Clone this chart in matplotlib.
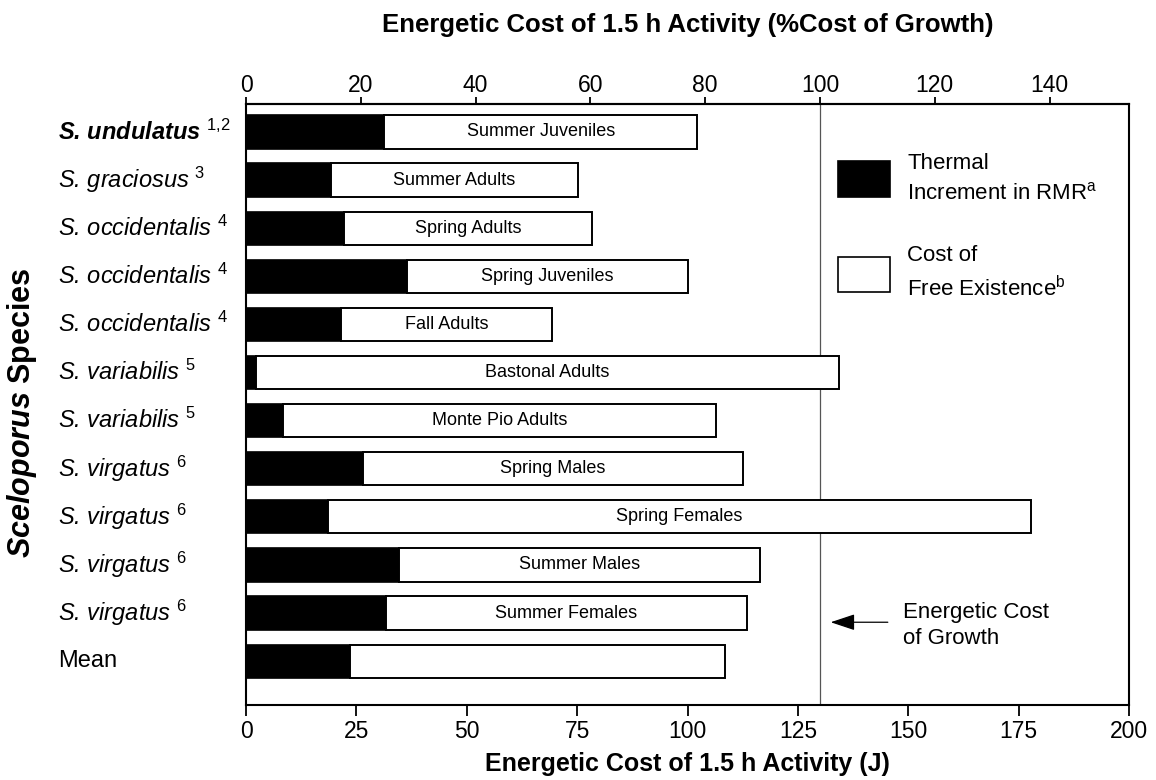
import matplotlib
matplotlib.use("Agg")
import matplotlib.pyplot as plt
from matplotlib.patches import Rectangle
from matplotlib.transforms import blended_transform_factory

plt.rcParams['font.family'] = ['Liberation Sans', 'DejaVu Sans']
plt.rcParams['mathtext.fontset'] = 'custom'
plt.rcParams['mathtext.rm'] = 'Liberation Sans'
plt.rcParams['mathtext.it'] = 'Liberation Sans:italic'
plt.rcParams['mathtext.bf'] = 'Liberation Sans:bold'
plt.rcParams['mathtext.bfit'] = 'Liberation Sans:bold:italic'

# --- data (J) ---
species = ['S. undulatus', 'S. graciosus', 'S. occidentalis', 'S. occidentalis',
           'S. occidentalis', 'S. variabilis', 'S. variabilis', 'S. virgatus',
           'S. virgatus', 'S. virgatus', 'S. virgatus', 'Mean']
refs = ['1{,}2', '3', '4', '4', '4', '5', '5', '6', '6', '6', '6', '']
groups = ['Summer Juveniles', 'Summer Adults', 'Spring Adults', 'Spring Juveniles',
          'Fall Adults', 'Bastonal Adults', 'Monte Pio Adults', 'Spring Males',
          'Spring Females', 'Summer Males', 'Summer Females', '']
thermal = [31.3, 19.3, 22.2, 36.5, 21.5, 2.3, 8.4, 26.5, 18.5, 34.6, 31.7, 23.6]
total = [102.2, 75.2, 78.4, 100.1, 69.3, 134.3, 106.5, 112.5, 177.8, 116.5, 113.5, 108.4]
growth_cost = 130.0  # J, = 100 % cost of growth
pct_ticks = [0, 20, 40, 60, 80, 100, 120, 140]
j_ticks = [0, 25, 50, 75, 100, 125, 150, 175, 200]

fig = plt.figure(figsize=(11.56, 7.8), dpi=100)
ax = fig.add_axes([246 / 1156, 1 - 705 / 780, 883 / 1156, 601 / 780])

ypos = list(range(len(species)))
free = [t - th for t, th in zip(total, thermal)]

ax.axvline(growth_cost, color='#555555', lw=0.9, zorder=1)
ax.barh(ypos, thermal, height=0.69, color='black', edgecolor='black', lw=1.2, zorder=2)
ax.barh(ypos, free, left=thermal, height=0.69, color='white', edgecolor='black', lw=1.4, zorder=2)

for i in ypos:
    if groups[i]:
        ax.text((thermal[i] + total[i]) / 2, i, groups[i], ha='center', va='center',
                fontsize=13, zorder=3)

ax.set_xlim(0, 200)
ax.set_ylim(len(species) - 0.09, -0.58)
ax.set_xticks(j_ticks)
ax.set_yticks([])
ax.tick_params(axis='x', labelsize=16.5, length=8, width=1.3, pad=3)
for s in ax.spines.values():
    s.set_linewidth(1.5)
ax.set_xlabel('Energetic Cost of 1.5 h Activity (J)', fontsize=18, fontweight='bold', labelpad=6)

sec = ax.secondary_xaxis('top', functions=(lambda j: j / growth_cost * 100,
                                           lambda p: p * growth_cost / 100))
sec.set_xticks(pct_ticks)
sec.tick_params(labelsize=16.5, length=5, width=1.3, pad=0)
sec.spines['top'].set_linewidth(1.5)
sec.set_xlabel('Energetic Cost of 1.5 h Activity (%Cost of Growth)', fontsize=18.5,
               fontweight='bold', labelpad=30)

# species labels, left aligned
tr = blended_transform_factory(fig.transFigure, ax.transData)
for i in ypos:
    if refs[i]:
        lab = species[i] + ' $^{' + refs[i] + '}$'
    else:
        lab = species[i]
    style = 'normal' if species[i] == 'Mean' else 'italic'
    weight = 'bold' if i == 0 else 'normal'
    ax.text(58 / 1156, i, lab, transform=tr, ha='left', va='center', fontsize=17,
            style=style, fontweight=weight, clip_on=False)

fig.text(22 / 1156, 1 - 413 / 780, r'$\mathbfit{Sceloporus}$ Species', rotation=90,
         ha='center', va='center', fontsize=22, fontweight='bold')

# legend drawn by hand
ax.add_patch(Rectangle((0.6704, 0.845), 0.0589, 0.06, transform=ax.transAxes,
                       facecolor='black', edgecolor='black', lw=1.2, clip_on=False))
ax.text(0.7486, 0.876, 'Thermal\nIncrement in RMR$^{\\mathrm{a}}$', transform=ax.transAxes,
        ha='left', va='center', fontsize=16, linespacing=1.5)
ax.add_patch(Rectangle((0.6704, 0.687), 0.0589, 0.058, transform=ax.transAxes,
                       facecolor='white', edgecolor='black', lw=1.2, clip_on=False))
ax.text(0.7486, 0.718, 'Cost of\nFree Existence$^{\\mathrm{b}}$', transform=ax.transAxes,
        ha='left', va='center', fontsize=16, linespacing=1.5)

# arrow to growth line
ax.annotate('', xy=(131.8, 10.19), xytext=(146, 10.19),
            arrowprops=dict(arrowstyle='-|>,head_length=1.5,head_width=0.5',
                            color='black', lw=0.9))
ax.text(148.8, 10.25, 'Energetic Cost\nof Growth', ha='left', va='center', fontsize=16,
        linespacing=1.3)

fig.savefig('out.png', dpi=100)
